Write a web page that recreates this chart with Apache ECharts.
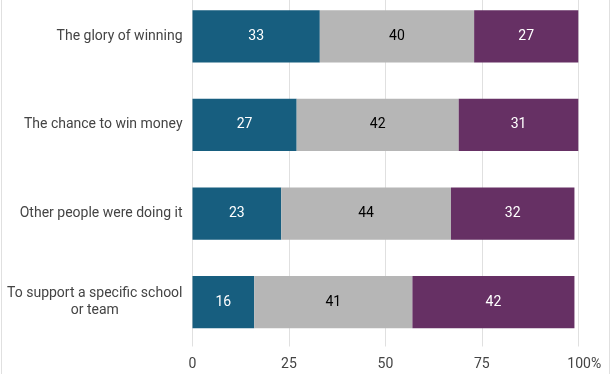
<!DOCTYPE html>
<html>
<head>
<meta charset="utf-8">
<script src="https://cdn.jsdelivr.net/npm/echarts@6/dist/echarts.min.js"></script>
<style>
html,body{margin:0;padding:0;background:#fff;overflow:hidden;}
#wrap{width:612px;height:374px;overflow:hidden;position:relative;}
#chart{width:612px;height:382px;margin-top:-8px;}
</style>
</head>
<body>
<div id="wrap"><div id="chart"></div></div>
<script>
const categories = [
  "The glory of winning",
  "The chance to win money",
  "Other people were doing it",
  "To support a specific school\nor team"
];
const seriesA = [33, 27, 23, 16];
const seriesB = [40, 42, 44, 41];
const seriesC = [27, 31, 32, 42];
const tickValues = [0, 25, 50, 75, 100];

const colors = ["#175e7f", "#b6b6b6", "#663064"];
const labelColors = ["#ffffff", "#000000", "#ffffff"];
const seriesData = [seriesA, seriesB, seriesC];
const font = "Roboto";
const textColor = "#444444";

const chart = echarts.init(document.getElementById('chart'), null, {renderer: 'canvas'});
chart.setOption({
  animation: false,
  textStyle: {fontFamily: font},
  grid: {left: 192.5, right: 612 - 578.3, top: 0, bottom: 27.5, containLabel: false},
  xAxis: {
    type: 'value', min: 0, max: 100, interval: 25,
    axisLine: {show: false}, axisTick: {show: false},
    splitLine: {show: true, lineStyle: {color: '#e0e0e0', width: 1}},
    axisLabel: {
      color: textColor, fontSize: 14, fontFamily: font, margin: 11,
      formatter: v => tickValues.indexOf(v) === tickValues.length - 1 ? '{p|' + v + '%}' : String(v),
      rich: {p: {color: textColor, fontSize: 14, fontFamily: font, padding: [0, 0, 0, 12]}}
    }
  },
  yAxis: {
    type: 'category', data: categories, inverse: true,
    axisLine: {show: false}, axisTick: {show: false},
    axisLabel: {
      color: textColor, fontSize: 14, fontFamily: font, margin: 10, align: 'right',
      formatter: v => v.split('\n').map(s => '{c|' + s + '}').join('\n'),
      rich: {c: {color: textColor, fontSize: 14, fontFamily: font, align: 'center', lineHeight: 17}}
    }
  },
  series: seriesData.map((d, i) => ({
    type: 'bar', stack: 'total', data: d, barWidth: '59%',
    itemStyle: {color: colors[i]},
    label: {show: true, position: 'inside', color: labelColors[i], fontSize: 14, fontFamily: font}
  })),
  graphic: [
    {type: 'line', shape: {x1: 1.5, y1: 0, x2: 1.5, y2: 382}, style: {stroke: '#e0e0e0', lineWidth: 1}},
    {type: 'line', shape: {x1: 609.5, y1: 0, x2: 609.5, y2: 382}, style: {stroke: '#e0e0e0', lineWidth: 1}}
  ]
});
</script>
</body>
</html>
